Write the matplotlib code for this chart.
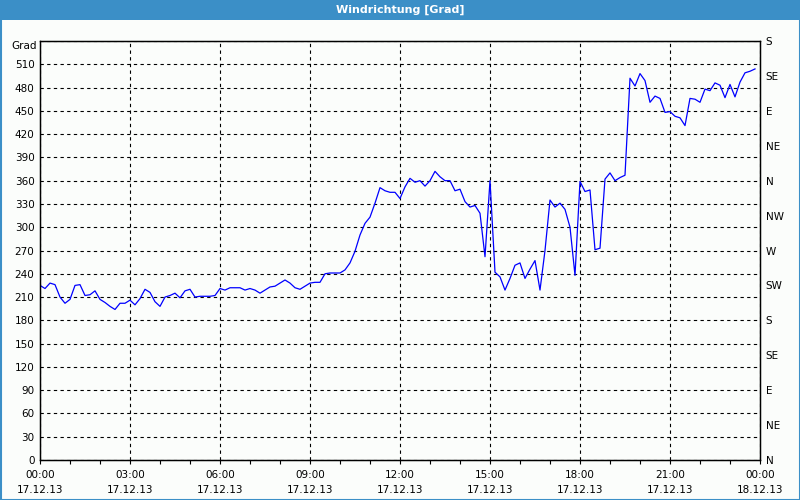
import matplotlib
matplotlib.use("Agg")
import matplotlib.pyplot as plt
from matplotlib.patches import Rectangle
from matplotlib.ticker import MultipleLocator, FixedLocator
import numpy as np

title = "Windrichtung [Grad]"

# 10-minute samples, 00:00 .. 23:50 (hours)
hours = [i / 6 for i in range(144)]
direction = [
    225, 221, 228, 226, 210, 202, 207, 225, 226, 212,
    213, 218, 207, 203, 198, 194, 202, 202, 206, 200,
    208, 220, 216, 204, 198, 210, 212, 215, 209, 218,
    220, 210, 211, 211, 211, 212, 221, 219, 222, 222,
    222, 219, 221, 219, 215, 219, 223, 224, 228, 232,
    228, 222, 220, 224, 228, 229, 229, 240, 241,
    241, 241, 245, 254, 269, 290, 305, 313, 331, 351,
    347, 345, 345, 337, 352, 363, 358, 360, 353, 360,
    372, 365, 360, 360, 347, 349, 333, 326, 328, 318,
    262, 360, 242, 236, 219, 234, 251, 254, 234, 246,
    257, 219, 270, 335, 326, 331, 323, 300, 238, 359,
    346, 348,
    271, 273, 362, 370, 360, 364, 367, 492, 482, 498,
    489, 461, 469, 466, 448, 449, 443, 441, 431, 466,
    465, 461, 478, 476, 486, 483, 467, 484, 468, 487,
    499, 501, 504,
]

x_tick_hours = [0, 3, 6, 9, 12, 15, 18, 21, 24]
x_tick_labels = ["00:00\n17.12.13", "03:00\n17.12.13", "06:00\n17.12.13",
                 "09:00\n17.12.13", "12:00\n17.12.13", "15:00\n17.12.13",
                 "18:00\n17.12.13", "21:00\n17.12.13", "00:00\n18.12.13"]
y_ticks = list(range(0, 511, 30))
y_tick_labels = [str(v) for v in y_ticks]
y_unit = "Grad"
compass_ticks = list(range(0, 541, 45))
compass_labels = ["N", "NE", "E", "SE", "S", "SW", "W", "NW",
                  "N", "NE", "E", "SE", "S"]

BLUE = "#3b8fc7"
BG = "#fbfdfb"
FS = 7.5

fig = plt.figure(figsize=(8, 5), dpi=100, facecolor=BG)
W, H = 800, 500
ax = fig.add_axes([40 / W, 1 - 460 / H, 720 / W, 419 / H])
ax.set_facecolor(BG)

ax.plot(hours, direction, color="#0000ff", lw=0.9)

ax.set_xlim(0, 24)
ax.set_ylim(0, 540)

ax.xaxis.set_major_locator(FixedLocator(x_tick_hours))
ax.set_xticklabels(x_tick_labels, fontsize=FS, linespacing=1.6)
ax.xaxis.set_minor_locator(MultipleLocator(1))
ax.tick_params(axis="x", which="both", direction="out", length=3, width=0.8,
               pad=4.5, colors="black")

ax.set_yticks(y_ticks + [540])
ax.set_yticklabels(y_tick_labels + [""], fontsize=FS)
ax.tick_params(axis="y", which="both", length=0, pad=4)
fig.text(37 / W, 1 - 46 / H, y_unit, fontsize=FS, ha="right", va="center")

ax.grid(True, which="major", color="black", linestyle=(0, (3, 3)), lw=0.8)
for s in ax.spines.values():
    s.set_color("black")
    s.set_linewidth(1.0)

ax2 = ax.twinx()
ax2.set_ylim(0, 540)
ax2.set_yticks(compass_ticks)
ax2.set_yticklabels(compass_labels, fontsize=FS)
ax2.tick_params(axis="y", length=0, pad=4)

# title bar
fig.add_artist(Rectangle((0, 1 - 20 / H), 1, 20 / H, transform=fig.transFigure,
                         facecolor=BLUE, edgecolor="none", zorder=0))
fig.text(0.5, 1 - 10 / H, title, color="white", fontsize=8, fontweight="bold",
         ha="center", va="center")
# figure border
fig.add_artist(Rectangle((0.5 / W, 0.5 / H), 1 - 1 / W, 1 - 1 / H,
                         transform=fig.transFigure, fill=False,
                         edgecolor=BLUE, lw=1.5))

fig.savefig("out.png", dpi=100, facecolor=BG)
